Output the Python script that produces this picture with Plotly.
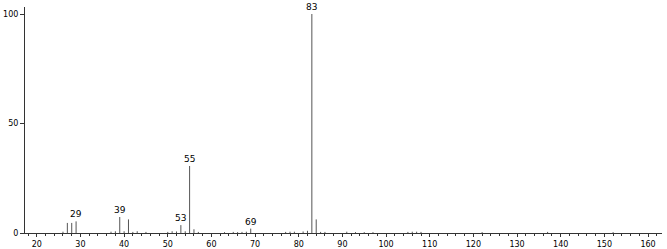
import plotly.graph_objects as go

# m/z values and relative intensities
mz = [26, 27, 28, 29, 37, 38, 39, 40, 41, 42, 43, 45, 50, 51, 52, 53, 54, 55, 56, 57,
      63, 65, 66, 67, 68, 69, 77, 78, 79, 81, 82, 83, 84, 85, 86, 91, 93, 95, 97,
      105, 106, 107, 108, 122, 137, 152]
intensity = [0.6, 4.6, 4.6, 5.3, 0.6, 0.8, 7.3, 0.8, 6.2, 0.5, 0.8, 0.5, 0.5, 0.8, 0.7, 3.6, 0.8, 30.6, 1.7, 0.5,
             0.4, 0.5, 0.4, 0.5, 0.6, 2.0, 0.5, 0.6, 0.6, 0.7, 1.0, 100.0, 6.2, 0.5, 0.5, 0.6, 0.4, 0.4, 0.4,
             0.5, 0.6, 0.6, 0.5, 0.4, 0.5, 0.4]
labeled = [29, 39, 53, 55, 69, 83]

x_tickvals = [20, 30, 40, 50, 60, 70, 80, 90, 100, 110, 120, 130, 140, 150, 160]
y_tickvals = [0, 50, 100]

xs, ys = [], []
for m, v in zip(mz, intensity):
    xs += [m, m, None]
    ys += [0, v, None]

fig = go.Figure()
fig.add_trace(go.Scatter(x=xs, y=ys, mode="lines",
                         line=dict(color="#555555", width=1), hoverinfo="skip",
                         showlegend=False))

for m, v in zip(mz, intensity):
    if m in labeled:
        fig.add_annotation(x=m, y=v, text=str(m), showarrow=False,
                           yanchor="bottom", yshift=0,
                           font=dict(family="DejaVu Sans", size=9, color="black"))

fig.update_layout(
    width=667, height=249,
    margin=dict(l=25, r=5, t=7, b=16),
    paper_bgcolor="white", plot_bgcolor="white",
    font=dict(family="DejaVu Sans", size=8, color="black"),
    xaxis=dict(range=[17.3, 163.2], tickvals=x_tickvals, ticks="outside",
               ticklen=3, tickcolor="#333", showline=True, linecolor="#333",
               linewidth=1, showgrid=False, zeroline=False, automargin=False,
               minor=dict(dtick=2, ticks="outside", ticklen=2, tickcolor="#333"),
               tickfont=dict(size=8)),
    yaxis=dict(range=[0, 103.2], tickvals=y_tickvals, ticks="outside",
               ticklen=4, tickcolor="#333", showline=True, linecolor="#333",
               linewidth=1, showgrid=False, zeroline=False, automargin=False,
               tickfont=dict(size=8)),
)

fig.write_html("out.html")
